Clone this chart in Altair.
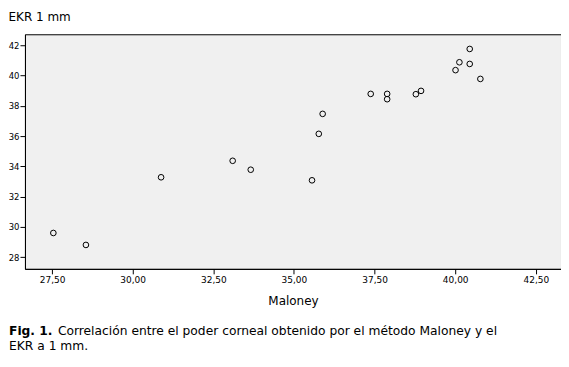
import altair as alt
import pandas as pd

maloney = [27.54, 28.55, 30.88, 33.10, 33.66, 35.56, 35.77, 35.89, 37.38, 37.89,
           37.89, 38.78, 38.94, 40.01, 40.13, 40.45, 40.45, 40.78]
ekr = [29.60, 28.81, 33.28, 34.37, 33.78, 33.08, 36.15, 37.47, 38.79, 38.79,
       38.44, 38.77, 38.99, 40.36, 40.88, 41.76, 40.77, 39.78]
x_ticks = [27.5, 30.0, 32.5, 35.0, 37.5, 40.0, 42.5]
y_ticks = [28, 30, 32, 34, 36, 38, 40, 42]

df = pd.DataFrame({"Maloney": maloney, "EKR": ekr})
font = "DejaVu Sans"

points = alt.Chart(df).mark_point(
    shape="circle", filled=False, color="black", size=32, strokeWidth=1, opacity=1
).encode(
    x=alt.X("Maloney:Q",
            scale=alt.Scale(domain=[26.66, 43.28], nice=False, zero=False),
            axis=alt.Axis(values=x_ticks, title="Maloney", grid=False,
                          labelExpr="replace(format(datum.value, '.2f'), '.', ',')",
                          domainColor="black", tickColor="black", tickSize=5,
                          labelFont=font, labelFontSize=9, labelColor="black",
                          labelPadding=2, titleFont=font, titleFontSize=12,
                          titleFontWeight="normal", titleColor="black",
                          titlePadding=11)),
    y=alt.Y("EKR:Q",
            scale=alt.Scale(domain=[27.23, 42.73], nice=False, zero=False),
            axis=alt.Axis(values=y_ticks, title="EKR 1 mm", grid=False,
                          domainColor="black", tickColor="black", tickSize=5,
                          labelFont=font, labelFontSize=8.5, labelColor="black",
                          labelPadding=1, titleFont=font, titleFontSize=12,
                          titleFontWeight="normal", titleColor="black",
                          titleAngle=0, titleX=-17, titleY=-14,
                          titleAlign="left", titleBaseline="alphabetic")),
)

cap1b = alt.Chart(pd.DataFrame({"t": ["Fig. 1."]})).mark_text(
    font=font, fontSize=12.3, fontWeight="bold", align="left", baseline="alphabetic",
    color="black"
).encode(text="t:N", x=alt.value(-16), y=alt.value(301))

cap1 = alt.Chart(pd.DataFrame({"t": ["Correlación entre el poder corneal obtenido por el método Maloney y el"]})).mark_text(
    font=font, fontSize=12.3, align="left", baseline="alphabetic", color="black"
).encode(text="t:N", x=alt.value(33), y=alt.value(301))

cap2 = alt.Chart(pd.DataFrame({"t": ["EKR a 1 mm."]})).mark_text(
    font=font, fontSize=12.3, align="left", baseline="alphabetic", color="black"
).encode(text="t:N", x=alt.value(-16), y=alt.value(316))

chart = alt.layer(points, cap1b, cap1, cap2).properties(
    width=537, height=235,
    autosize=alt.AutoSizeParams(type="none"),
    padding={"left": 17, "top": 26, "right": 0, "bottom": 90},
    background="white",
).configure_view(fill="#f0f0f0", stroke="black", strokeWidth=1)

chart.save("out.html", embed_options={"renderer": "svg", "actions": False})
